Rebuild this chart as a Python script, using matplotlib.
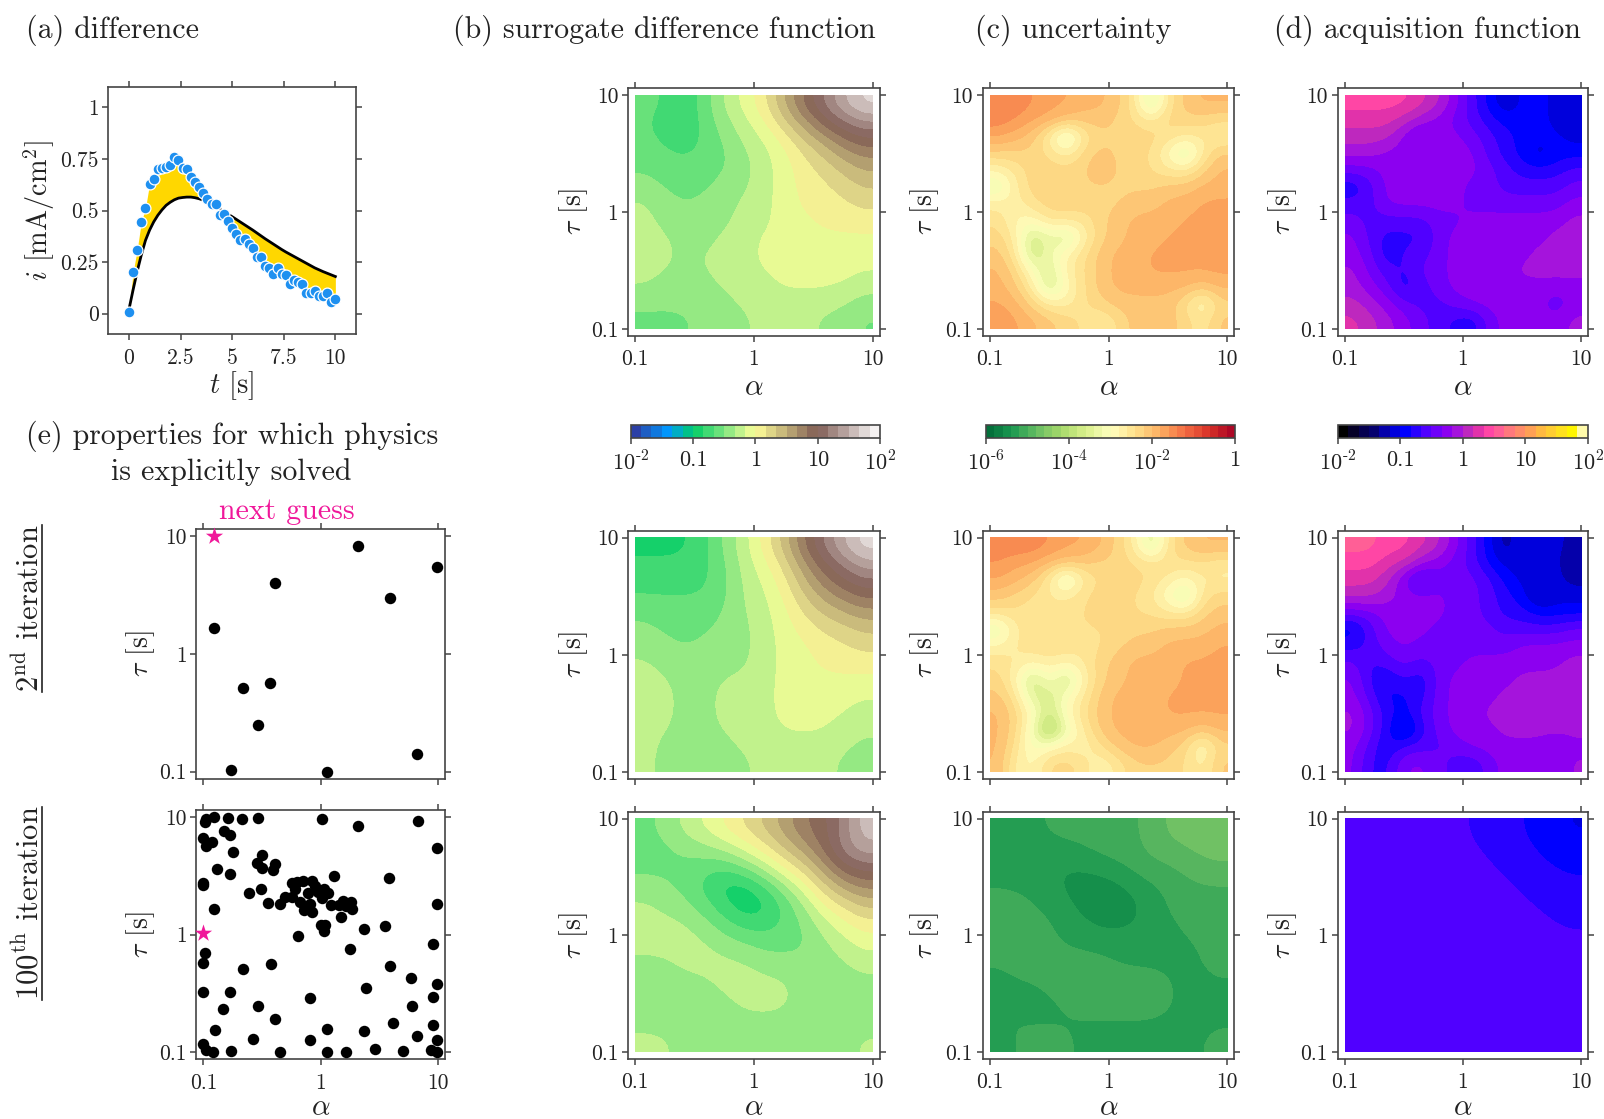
import matplotlib

matplotlib.use("Agg")
import matplotlib.pyplot as plt
import numpy as np
from matplotlib.colors import BoundaryNorm, ListedColormap

plt.rcParams["font.family"] = ["cmr10"]
plt.rcParams["mathtext.fontset"] = "cm"
plt.rcParams["axes.formatter.use_mathtext"] = True

W, H = 1604, 1119
PINK = "#F0189A"
FRAME = "#444444"

# (a) measured current and model current
t_s = [0, .2, .4, .6, .8, 1, 1.2, 1.4, 1.6, 1.8, 2, 2.2, 2.4, 2.6, 2.8, 3, 3.2, 3.4, 3.6, 3.8, 4, 4.2, 4.4, 4.6, 4.8,
       5, 5.2, 5.4, 5.6, 5.8, 6, 6.2, 6.4, 6.6, 6.8, 7, 7.2, 7.4, 7.6, 7.8, 8, 8.2, 8.4, 8.6, 8.8, 9, 9.2, 9.4, 9.6, 9.8, 10]
i_meas = [.01, .20, .31, .445, .51, .63, .655, .70, .705, .71, .72, .757, .745, .705, .70, .66, .64, .615, .585, .555,
          .53, .53, .48, .485, .45, .415, .385, .355, .36, .34, .32, .275, .275, .23, .22, .19, .22, .19, .185, .145,
          .165, .155, .145, .10, .10, .11, .085, .085, .10, .055, .07]
i_model = [.02, .115, .205, .285, .355, .405, .445, .477, .503, .525, .54, .552, .56, .563, .565, .565, .562, .557, .55,
           .54, .53, .518, .506, .494, .482, .47, .457, .444, .431, .418, .405, .391, .377, .363, .35, .337, .324, .311,
           .299, .288, .277, .266, .255, .244, .233, .222, .213, .204, .196, .188, .18]

# solved properties, log10(alpha) and log10(tau)
la_2nd = [.32, .99, -.39, .59, -.91, -.66, -.43, -.53, -.76, .05, .82]
lt_2nd = [.92, .74, .60, .48, .22, -.29, -.25, -.60, -.99, -1.0, -.85]
star_2nd = (-.91, 1.0)

la_100 = [-.99, -.98, -.91, -.79, -.67, -.53, .01, .32, .83, -1.0, -.98, -.93, -.82, -.77, -.75, .99,
          -.50, -.54, -.50, -.39, -.41, -.88, -.77, -1.0, -1.0, .11, .58, -.51, -.61, -.91, -.45, -.35,
          -.24, -.20, -.15, -.07, -.22, -.05, .03, -.30, -.24, -.11, -.02, .06, .01, -.18, -.09, .09, .19, .26,
          .16, .22, .27, -.14, -.07, .17, 0, .04, .03,
          .99, -.19, .37, .55, .96, .25, -.99, -1.0, -.66, -.42, .59, .77, .99, -1.0, -.77, .39, -.09, .96, -.53,
          -.83, .78, -.39, .62, .96, -.90, .05, .37, .82, -.58, -.09, .99, -1.0, -.98, -.92, -.76, -.35, .05, .22,
          .46, .70, .94, .99]
lt_100 = [.96, .98, 1.0, .99, .98, .99, .98, .92, .97, .82, .75, .79, .88, .85, .70, .74,
          .68, .61, .57, .60, .55, .56, .52, .44, .42, .50, .48, .39, .35, .22, .27, .26,
          .44, .45, .46, .46, .39, .41, .39, .32, .32, .35, .36, .35, .31, .28, .26, .25, .29, .28,
          .25, .24, .22, .21, .19, .15, .08, .08, .03,
          .26, -.01, .05, .07, -.08, -.12, -.16, -.24, -.29, -.25, -.27, -.37, -.42, -.49, -.49, -.45, -.54, -.53, -.61,
          -.63, -.61, -.72, -.75, -.77, -.81, -.80, -.82, -.86, -.89, -.90, -.90, -.93, -.98, -1.0, -.99, -1.0, -1.0, -1.0,
          -.97, -.99, -.98, -1.0]
star_100 = (-1.0, .01)

# fields, read as colour band numbers, top row first, left column first
surrogate_2nd = [
    [8, 8, 6, 8, 10, 11, 12, 15, 17, 19, 21, 23],
    [8, 6, 6, 8, 9, 10, 11, 13, 15, 17, 18, 19],
    [8, 8, 6, 8, 8, 10, 10, 11, 13, 14, 16, 17],
    [8, 8, 8, 8, 8, 9, 10, 11, 12, 13, 14, 15],
    [9, 8, 8, 8, 9, 9, 10, 11, 12, 12, 13, 14],
    [10, 9, 8, 9, 9, 10, 10, 11, 12, 12, 12, 13],
    [10, 9, 9, 9, 9, 10, 10, 11, 11, 12, 12, 12],
    [10, 10, 9, 9, 10, 10, 11, 11, 11, 11, 11, 11],
    [10, 10, 9, 10, 10, 10, 11, 11, 11, 11, 11, 11],
    [10, 9, 9, 9, 10, 10, 10, 11, 11, 11, 11, 10],
    [9, 9, 9, 9, 9, 10, 10, 10, 10, 10, 10, 9],
    [8, 8, 8, 9, 9, 9, 10, 10, 10, 9, 9, 8],
]
surrogate_3rd = [
    [6, 6, 6, 7, 9, 10, 12, 14, 17, 19, 21, 23],
    [7, 7, 7, 7, 8, 10, 11, 12, 15, 17, 18, 20],
    [7, 7, 7, 7, 8, 10, 10, 12, 14, 16, 17, 18],
    [8, 8, 8, 8, 8, 10, 10, 11, 13, 14, 15, 16],
    [9, 8, 8, 8, 9, 9, 10, 11, 12, 13, 13, 14],
    [9, 9, 8, 9, 9, 9, 10, 11, 11, 12, 12, 13],
    [10, 9, 9, 9, 9, 9, 10, 11, 11, 12, 12, 12],
    [10, 10, 9, 9, 10, 10, 10, 11, 11, 11, 11, 11],
    [10, 10, 9, 9, 10, 10, 10, 11, 11, 11, 11, 10],
    [10, 10, 9, 9, 10, 10, 10, 11, 11, 11, 10, 10],
    [10, 9, 9, 9, 9, 10, 10, 10, 10, 10, 10, 9],
    [10, 9, 9, 9, 9, 9, 10, 10, 10, 10, 9, 9],
]
surrogate_100 = [
    [8, 9, 10, 11, 12, 13, 14, 15, 17, 17, 18, 22],
    [8, 8, 9, 9, 10, 11, 12, 14, 15, 17, 20, 21],
    [8, 8, 8, 8, 7, 9, 10, 12, 13, 15, 18, 18],
    [9, 9, 8, 7, 5, 5, 7, 9, 11, 13, 15, 16],
    [10, 9, 9, 8, 7, 5, 5, 7, 9, 12, 12, 14],
    [10, 10, 10, 9, 8, 7, 7, 8, 8, 10, 11, 12],
    [10, 10, 10, 10, 9, 9, 8, 8, 8, 9, 10, 11],
    [9, 9, 10, 10, 10, 10, 9, 9, 9, 9, 9, 10],
    [9, 9, 9, 9, 10, 10, 10, 10, 9, 9, 9, 9],
    [9, 9, 9, 9, 9, 10, 10, 10, 9, 9, 9, 9],
    [9, 9, 9, 9, 9, 9, 9, 9, 9, 9, 9, 9],
    [10, 10, 9, 9, 9, 9, 9, 9, 9, 9, 9, 10],
]
uncert_2nd = [
    [27, 27, 26, 25, 25, 24, 24, 23, 21, 12, 21, 23, 24, 24],
    [27, 26, 25, 25, 24, 23, 23, 22, 21, 20, 22, 22, 22, 21],
    [25, 24, 23, 19, 12, 20, 22, 22, 22, 22, 21, 20, 20, 19],
    [22, 22, 22, 21, 19, 22, 23, 22, 22, 21, 18, 12, 20, 23],
    [19, 20, 22, 22, 22, 22, 24, 22, 22, 21, 20, 20, 22, 24],
    [14, 20, 22, 22, 22, 22, 22, 22, 22, 22, 23, 23, 24, 24],
    [20, 19, 21, 22, 22, 22, 22, 22, 23, 23, 24, 24, 25, 25],
    [21, 18, 18, 21, 21, 20, 22, 23, 24, 24, 24, 25, 25, 26],
    [22, 20, 12, 16, 12, 19, 22, 23, 24, 24, 25, 25, 25, 26],
    [23, 21, 11, 17, 19, 21, 23, 24, 24, 25, 25, 25, 25, 26],
    [24, 22, 18, 13, 20, 21, 23, 24, 24, 25, 25, 25, 25, 25],
    [24, 23, 20, 12, 18, 21, 23, 24, 24, 24, 24, 24, 23, 24],
    [25, 24, 22, 20, 19, 21, 22, 23, 23, 23, 23, 21, 16, 22],
    [26, 25, 24, 23, 22, 21, 19, 21, 23, 23, 23, 22, 20, 23],
]
uncert_3rd = [
    [27, 27, 27, 26, 25, 25, 24, 22, 20, 12, 21, 23, 24, 24],
    [26, 25, 25, 24, 24, 23, 22, 22, 21, 21, 21, 21, 21, 20],
    [25, 24, 23, 20, 12, 20, 21, 22, 22, 21, 20, 18, 20, 19],
    [23, 22, 21, 20, 20, 21, 22, 22, 21, 20, 17, 12, 21, 22],
    [21, 21, 20, 20, 21, 21, 22, 22, 21, 21, 20, 20, 22, 23],
    [14, 20, 21, 21, 21, 21, 21, 21, 22, 22, 23, 23, 23, 24],
    [19, 20, 21, 21, 21, 20, 21, 22, 23, 23, 24, 24, 24, 25],
    [21, 20, 19, 20, 19, 20, 22, 23, 24, 24, 24, 25, 25, 25],
    [22, 19, 11, 19, 11, 19, 22, 23, 24, 24, 24, 25, 25, 26],
    [23, 21, 14, 13, 18, 20, 23, 24, 24, 24, 25, 25, 25, 25],
    [24, 22, 19, 12, 19, 21, 23, 24, 24, 24, 25, 25, 25, 25],
    [24, 22, 17, 6, 16, 20, 23, 24, 24, 24, 24, 24, 23, 24],
    [24, 21, 16, 19, 20, 18, 21, 23, 24, 24, 23, 22, 16, 22],
    [24, 19, 18, 22, 22, 21, 18, 20, 22, 22, 22, 21, 19, 23],
]
uncert_100 = [
    [4, 4, 4, 5, 5, 5, 5, 5, 7, 7, 7, 8],
    [4, 4, 4, 4, 4, 5, 5, 5, 7, 7, 7, 7],
    [4, 4, 3, 3, 3, 4, 4, 5, 5, 5, 7, 7],
    [4, 4, 4, 3, 2, 2, 3, 4, 4, 5, 5, 5],
    [5, 5, 4, 4, 3, 1, 1, 3, 4, 5, 5, 5],
    [5, 5, 5, 4, 4, 3, 3, 3, 4, 4, 5, 5],
    [5, 5, 5, 4, 4, 4, 4, 4, 4, 4, 4, 5],
    [4, 5, 5, 5, 5, 5, 4, 4, 4, 4, 4, 5],
    [4, 4, 4, 5, 5, 5, 5, 5, 5, 4, 4, 4],
    [4, 4, 4, 4, 5, 5, 5, 5, 5, 4, 4, 4],
    [5, 4, 4, 4, 4, 4, 4, 4, 4, 4, 4, 4],
    [3, 5, 5, 5, 4, 4, 4, 4, 4, 4, 4, 5],
]
acq_2nd = [
    [14, 14, 14, 14, 13, 12, 10, 8, 6, 4, 6, 6, 5, 5],
    [13, 13, 13, 12, 11, 10, 9, 8, 7, 6, 6, 6, 5, 4],
    [12, 12, 12, 10, 8, 10, 10, 9, 8, 7, 6, 6, 6, 5],
    [11, 11, 10, 10, 10, 10, 10, 10, 8, 7, 6, 4, 6, 6],
    [9, 9, 10, 10, 11, 10, 10, 10, 9, 8, 7, 7, 7, 8],
    [6, 8, 10, 10, 10, 10, 10, 9, 9, 8, 8, 8, 8, 9],
    [8, 8, 10, 10, 10, 10, 10, 9, 9, 9, 9, 9, 9, 10],
    [9, 8, 8, 8, 8, 9, 9, 10, 10, 10, 10, 10, 10, 11],
    [10, 8, 7, 7, 7, 9, 10, 10, 10, 10, 10, 10, 11, 11],
    [10, 9, 6, 8, 8, 9, 10, 10, 10, 10, 10, 11, 11, 11],
    [11, 9, 8, 7, 9, 9, 10, 10, 10, 10, 11, 11, 11, 11],
    [11, 10, 9, 6, 8, 9, 10, 10, 10, 10, 10, 10, 10, 10],
    [12, 11, 10, 9, 8, 8, 9, 10, 10, 10, 10, 10, 8, 10],
    [13, 12, 11, 10, 9, 8, 7, 6, 9, 10, 10, 10, 10, 11],
]
acq_3rd = [
    [15, 15, 14, 14, 13, 12, 10, 8, 6, 3, 6, 5, 5, 4],
    [14, 14, 13, 13, 11, 10, 9, 8, 6, 5, 5, 5, 5, 3],
    [13, 13, 12, 9, 6, 9, 9, 9, 8, 6, 5, 5, 5, 4],
    [12, 12, 11, 10, 10, 10, 9, 9, 8, 7, 6, 3, 5, 5],
    [9, 9, 10, 10, 10, 10, 9, 9, 8, 7, 7, 6, 6, 6],
    [5, 8, 10, 10, 10, 9, 9, 9, 9, 8, 8, 8, 8, 9],
    [7, 8, 9, 10, 9, 9, 9, 9, 9, 9, 10, 10, 10, 10],
    [9, 7, 8, 9, 8, 9, 9, 10, 10, 10, 10, 10, 10, 11],
    [10, 7, 6, 8, 6, 9, 10, 10, 10, 10, 11, 11, 11, 12],
    [10, 8, 6, 6, 7, 9, 10, 10, 10, 11, 11, 11, 11, 11],
    [11, 9, 7, 6, 8, 9, 10, 10, 11, 11, 11, 11, 11, 11],
    [11, 9, 7, 3, 7, 9, 10, 10, 10, 11, 11, 11, 11, 11],
    [10, 8, 6, 8, 8, 8, 9, 10, 10, 10, 10, 10, 9, 10],
    [10, 7, 7, 10, 10, 9, 8, 7, 9, 10, 10, 10, 9, 11],
]
acq_100 = [
    [8, 8, 8, 8, 7, 7, 6, 5],
    [8, 8, 8, 8, 8, 7, 7, 6],
    [8, 8, 8, 8, 8, 8, 7, 7],
    [8, 8, 8, 8, 8, 8, 8, 7],
    [8, 8, 8, 8, 8, 8, 8, 8],
    [8, 8, 8, 8, 8, 8, 8, 8],
    [8, 8, 8, 8, 8, 8, 8, 8],
    [8, 8, 8, 8, 8, 8, 8, 8],
]

acq_colors = ["#000000", "#050028", "#050050", "#05006e", "#0500aa", "#0000dc", "#0000ff", "#2800ff",
              "#5000ff", "#6e00fa", "#8c00f0", "#a514dc", "#be28be", "#e132aa", "#ff46a5", "#ff5f96",
              "#ff787d", "#ff8c69", "#ffa055", "#ffb941", "#ffcd32", "#ffe11e", "#fff500", "#fffaaa"]


def px_axes(fig, left, right, top, bottom):
    return fig.add_axes([left / W, 1 - bottom / H, (right - left) / W, (bottom - top) / H])


def band_map(cmap_name, n):
    cmap = plt.get_cmap(cmap_name)
    return ListedColormap(cmap((np.arange(n) + 0.5) / n))


def soften(z, side):
    # takes the stair steps of whole band numbers out of the reading
    kernel = [side, 1 - 2 * side, side]
    z = np.pad(z, 1, mode="edge")
    z = np.apply_along_axis(np.convolve, 0, z, kernel, mode="same")
    z = np.apply_along_axis(np.convolve, 1, z, kernel, mode="same")
    return z[1:-1, 1:-1]


def style_frame(ax):
    for s in ax.spines.values():
        s.set_color(FRAME)
        s.set_linewidth(1.2)
    ax.tick_params(which="both", top=True, right=True, direction="out", length=4, width=1.1,
                   color=FRAME, labelsize=15.5, pad=3, labelcolor="#222222")
    ax.tick_params(axis="x", pad=6)


def log_axis(ax, ylab_x):
    ax.set_xlim(-1.06, 1.06)
    ax.set_ylim(-1.06, 1.06)
    ax.set_xticks([-1, 0, 1], ["0.1", "1", "10"])
    ax.set_yticks([-1, 0, 1], ["0.1", "1", "10"])
    ax.set_ylabel(r"$\tau$ [s]", fontsize=20, color="#222222")
    ax.yaxis.set_label_coords(ylab_x, 0.5)
    style_frame(ax)


def alpha_label(ax, y):
    ax.set_xlabel(r"$\alpha$", fontsize=21, color="#222222")
    ax.xaxis.set_label_coords(0.5, y)


def draw_field(ax, bands, low, cmap, norm, ylab_x, side, label_y=None):
    z = low + (soften(np.array(bands, dtype=float), side) + 0.5) / 6
    im = ax.imshow(z, extent=(-1, 1, -1, 1), origin="upper", aspect="auto", cmap=cmap, norm=norm,
                   interpolation="bicubic", interpolation_stage="data")
    log_axis(ax, ylab_x)
    if label_y is not None:
        alpha_label(ax, label_y)
    else:
        ax.set_xticklabels([])
    return im


def draw_bar(fig, im, left, right, ticks, labels):
    cax = px_axes(fig, left, right, 425, 438)
    cb = fig.colorbar(im, cax=cax, orientation="horizontal", ticks=ticks, spacing="proportional", drawedges=False)
    cb.set_ticklabels(labels)
    cb.ax.minorticks_off()
    cb.outline.set_edgecolor(FRAME)
    cb.outline.set_linewidth(1.2)
    cb.ax.tick_params(length=4, width=1.1, color=FRAME, labelsize=16, pad=5, labelcolor="#222222")


fig = plt.figure(figsize=(W / 100, H / 100), dpi=100)

# (a)
ax = px_axes(fig, 108.3, 356, 86.7, 334.3)
ax.fill_between(t_s, i_meas, i_model, color="gold", lw=0)
ax.plot(t_s, i_model, color="black", lw=2)
ax.plot(t_s, i_meas, ls="none", marker="o", ms=7.8, mfc="#1E90F0", mec="white", mew=0.9, clip_on=False)
ax.set_xlim(-1, 11)
ax.set_ylim(-0.1, 1.1)
ax.set_xticks([0, 2.5, 5, 7.5, 10], ["0", "2.5", "5", "7.5", "10"])
ax.set_yticks([0, .25, .5, .75, 1], ["0", "0.25", "0.5", "0.75", "1"])
ax.set_xlabel(r"$t$ [s]", fontsize=20.5, color="#222222")
ax.xaxis.set_label_coords(0.5, -0.14)
ax.set_ylabel(r"$i$ [mA/cm$^2$]", fontsize=20.3, color="#222222")
ax.yaxis.set_label_coords(-0.206, 0.5)
style_frame(ax)

# scatter panels
for bounds, la, lt, star, xlab in [((196.3, 445, 529.3, 778.7), la_2nd, lt_2nd, star_2nd, False),
                                   ((196.3, 445, 810, 1059.3), la_100, lt_100, star_100, True)]:
    ax = px_axes(fig, *bounds)
    ax.scatter(la, lt, s=68, color="black", lw=0, clip_on=False, zorder=3)
    ax.scatter(*star, s=170, color=PINK, marker="*", lw=0, clip_on=False, zorder=4)
    log_axis(ax, -0.16)
    if xlab:
        alpha_label(ax, -0.142)
    else:
        ax.set_xticklabels([])

# fields
cols = [(628, 880), (982.7, 1234.3), (1337.7, 1588)]
rows = [(88, 336), (530.7, 779.3), (811.7, 1059)]
ylab = [-0.15, -0.165, -0.156]
row_label_y = [-0.155, None, -0.146]
maps = [
    (band_map("terrain", 24), BoundaryNorm(np.linspace(-2, 2, 25), 24), -2),
    (band_map("RdYlGn_r", 30), BoundaryNorm(np.linspace(-6, 0, 31), 30), -6),
    (ListedColormap(acq_colors), BoundaryNorm(np.linspace(-2, 2, 25), 24), -2),
]
fields = [
    [surrogate_2nd, uncert_2nd, acq_2nd],
    [surrogate_3rd, uncert_3rd, acq_3rd],
    [surrogate_100, uncert_100, acq_100],
]
ims = []
for r, row in enumerate(fields):
    for c, bands in enumerate(row):
        cmap, norm, low = maps[c]
        ax = px_axes(fig, cols[c][0], cols[c][1], rows[r][0], rows[r][1])
        # the finely detailed fields keep more of their spots
        side = 0.08 if (c > 0 and r < 2) else 0.2
        im = draw_field(ax, bands, low, cmap, norm, ylab[c], side, label_y=row_label_y[r])
        if r == 0:
            ims.append(im)

draw_bar(fig, ims[0], 630.7, 880, [-2, -1, 0, 1, 2], [r"10$^{\text{-2}}$", "0.1", "1", "10", r"10$^{\text{2}}$"])
draw_bar(fig, ims[1], 986, 1235, [-6, -4, -2, 0], [r"10$^{\text{-6}}$", r"10$^{\text{-4}}$", r"10$^{\text{-2}}$", "1"])
draw_bar(fig, ims[2], 1337.7, 1587.7, [-2, -1, 0, 1, 2], [r"10$^{\text{-2}}$", "0.1", "1", "10", r"10$^{\text{2}}$"])


def fig_text(x, y, s, **kw):
    fig.text(x / W, 1 - y / H, s, color=kw.pop("color", "#222222"), **kw)


for x, s in [(26, "(a) difference"), (453, "(b) surrogate difference function"),
             (975, "(c) uncertainty"), (1274, "(d) acquisition function")]:
    fig_text(x, 30, s, fontsize=21.5, ha="left", va="center")
fig_text(26, 436, "(e) properties for which physics", fontsize=21.5, ha="left", va="center")
fig_text(231, 472, "is explicitly solved", fontsize=21.5, ha="center", va="center")
fig_text(287, 511, "next guess", fontsize=21.5, ha="center", va="center", color=PINK)

fig_text(29, 608, r"2$^{\text{nd}}$ iteration", fontsize=22, rotation=90, ha="center", va="center")
fig_text(29, 903, r"100$^{\text{th}}$ iteration", fontsize=22, rotation=90, ha="center", va="center")
for y0, y1 in [(525, 692), (807, 1000)]:
    fig.add_artist(plt.Line2D([41.7 / W, 41.7 / W], [1 - y0 / H, 1 - y1 / H], color="#222222", lw=1.2))

fig.savefig("out.png", dpi=100)
